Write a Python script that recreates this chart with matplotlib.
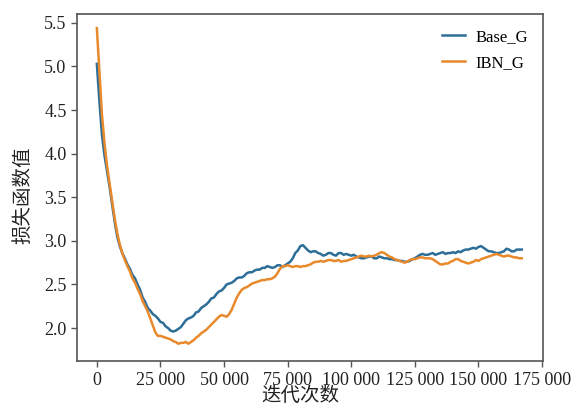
import matplotlib
matplotlib.use("Agg")
import matplotlib.pyplot as plt
from matplotlib.ticker import FuncFormatter, MultipleLocator

iterations = [k * 1000 for k in range(168)]

base_g = [5.03, 4.60, 4.22, 3.98, 3.80, 3.62, 3.42, 3.22, 3.05, 2.94,
          2.86, 2.80, 2.73, 2.68, 2.61, 2.57, 2.50, 2.44, 2.35, 2.30,
          2.23, 2.20, 2.16, 2.14, 2.11, 2.07, 2.06, 2.02, 2.00, 1.97,
          1.96, 1.97, 1.99, 2.01, 2.05, 2.09, 2.11, 2.12, 2.14, 2.18,
          2.19, 2.23, 2.25, 2.27, 2.30, 2.34, 2.35, 2.39, 2.42, 2.43,
          2.46, 2.50, 2.51, 2.52, 2.54, 2.57, 2.58, 2.58, 2.60, 2.63,
          2.64, 2.64, 2.66, 2.67, 2.67, 2.69, 2.69, 2.71, 2.70, 2.69,
          2.70, 2.72, 2.72, 2.70, 2.72, 2.74, 2.76, 2.80, 2.86, 2.89,
          2.94, 2.95, 2.92, 2.89, 2.87, 2.88, 2.88, 2.86, 2.85, 2.83,
          2.84, 2.86, 2.86, 2.84, 2.83, 2.86, 2.86, 2.84, 2.85, 2.84,
          2.83, 2.84, 2.82, 2.81, 2.80, 2.80, 2.81, 2.82, 2.82, 2.80,
          2.80, 2.82, 2.81, 2.80, 2.80, 2.79, 2.79, 2.78, 2.78, 2.77,
          2.77, 2.76, 2.76, 2.77, 2.79, 2.80, 2.82, 2.84, 2.85, 2.84,
          2.84, 2.85, 2.86, 2.84, 2.85, 2.86, 2.87, 2.85, 2.86, 2.86,
          2.87, 2.86, 2.88, 2.87, 2.89, 2.90, 2.90, 2.91, 2.92, 2.91,
          2.93, 2.94, 2.92, 2.90, 2.88, 2.88, 2.87, 2.86, 2.86, 2.87,
          2.88, 2.91, 2.90, 2.88, 2.88, 2.90, 2.90, 2.90]

ibn_g = [5.44, 4.95, 4.45, 4.12, 3.86, 3.66, 3.46, 3.26, 3.09, 2.96,
         2.86, 2.78, 2.71, 2.65, 2.57, 2.52, 2.45, 2.39, 2.31, 2.25,
         2.19, 2.11, 2.03, 1.95, 1.91, 1.91, 1.90, 1.89, 1.88, 1.87,
         1.85, 1.84, 1.82, 1.83, 1.83, 1.84, 1.82, 1.84, 1.86, 1.89,
         1.91, 1.94, 1.96, 1.98, 2.01, 2.04, 2.07, 2.10, 2.13, 2.15,
         2.14, 2.13, 2.16, 2.21, 2.28, 2.35, 2.40, 2.44, 2.46, 2.47,
         2.49, 2.51, 2.52, 2.53, 2.54, 2.55, 2.55, 2.56, 2.56, 2.57,
         2.59, 2.63, 2.68, 2.71, 2.71, 2.72, 2.71, 2.70, 2.71, 2.71,
         2.70, 2.71, 2.71, 2.72, 2.73, 2.75, 2.76, 2.76, 2.77, 2.76,
         2.77, 2.78, 2.78, 2.77, 2.77, 2.78, 2.76, 2.77, 2.77, 2.78,
         2.79, 2.80, 2.81, 2.82, 2.83, 2.82, 2.82, 2.83, 2.82, 2.83,
         2.84, 2.86, 2.87, 2.86, 2.84, 2.82, 2.81, 2.79, 2.78, 2.77,
         2.76, 2.75, 2.76, 2.78, 2.79, 2.79, 2.80, 2.81, 2.81, 2.80,
         2.80, 2.80, 2.79, 2.77, 2.75, 2.73, 2.73, 2.74, 2.74, 2.76,
         2.77, 2.79, 2.79, 2.77, 2.76, 2.75, 2.74, 2.75, 2.76, 2.78,
         2.77, 2.79, 2.80, 2.81, 2.82, 2.83, 2.84, 2.85, 2.84, 2.83,
         2.82, 2.83, 2.83, 2.82, 2.81, 2.81, 2.80, 2.80]

series_labels = ["Base_G", "IBN_G"]
xlabel = "迭代次数"
ylabel = "损失函数值"

plt.rcParams['font.family'] = ['Liberation Serif', 'Noto Sans CJK SC', 'DejaVu Sans']

fig = plt.figure(figsize=(5.79, 4.04), dpi=100)
ax = fig.add_axes([0.133, 0.106, 0.805, 0.859])

ax.plot(iterations, base_g, color='#2d6e99', lw=1.8, label=series_labels[0])
ax.plot(iterations, ibn_g, color='#e8892b', lw=1.8, label=series_labels[1])

ax.set_xlim(-7800, 175400)
ax.set_ylim(1.62, 5.6)
ax.xaxis.set_major_locator(MultipleLocator(25000))
ax.yaxis.set_major_locator(MultipleLocator(0.5))
ax.xaxis.set_major_formatter(FuncFormatter(lambda v, p: f"{int(round(v)):,}".replace(",", " ")))
ax.yaxis.set_major_formatter(FuncFormatter(lambda v, p: f"{v:.1f}"))

for s in ax.spines.values():
    s.set_color('#555555')
    s.set_linewidth(1.2)
ax.tick_params(direction='out', length=4, width=1, color='#555555', labelsize=13, labelcolor='#222222')

ax.set_xlabel(xlabel, fontsize=14, color='#222222', va='center')
ax.set_ylabel(ylabel, fontsize=14, color='#222222', va='center')
ax.xaxis.set_label_coords(0.48, -0.101)
ax.yaxis.set_label_coords(-0.116, 0.478)

leg = ax.legend(loc='upper right', frameon=False, fontsize=12, handlelength=1.4, handletextpad=0.6, labelspacing=0.6)

fig.savefig("out.png", dpi=100)
